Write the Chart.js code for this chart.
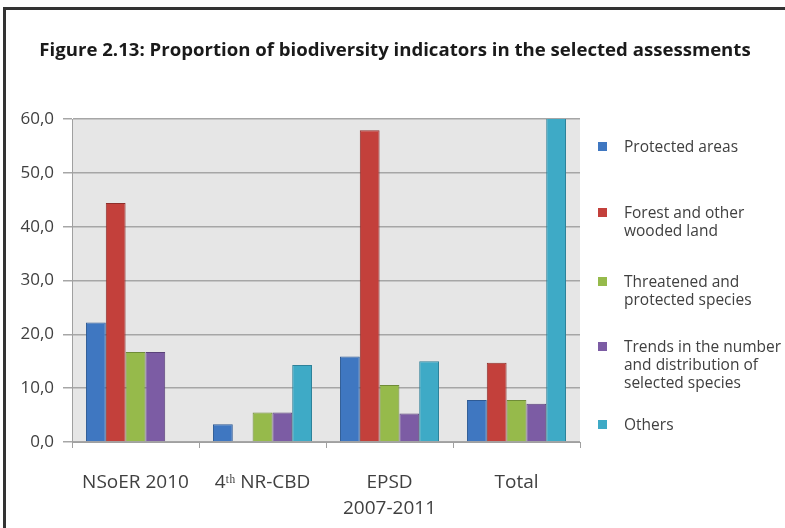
<!DOCTYPE html>
<html>
<head>
<meta charset="utf-8">
<script src="https://cdn.jsdelivr.net/npm/chart.js@4.4.0/dist/chart.umd.min.js"></script>
<style>
  body { margin: 0; background: #fff; font-family: "Open Sans", sans-serif; }
  #marco {
    position: absolute; left: 3px; top: 7px; right: 0; bottom: 0;
    border-left: 3px solid #333; border-top: 3px solid #333;
  }
  #grafico { position: absolute; left: 0; top: 0; }
  #titulo {
    position: absolute; left: 0; top: 34px; width: 790px; text-align: center;
    font-size: 18.6px; font-weight: bold; line-height: 30px; color: #1a1a1a; white-space: nowrap;
  }
  .item { position: absolute; left: 624px; font-size: 15.5px; line-height: 18px; color: #404040; white-space: nowrap; }
  .cuadro { position: absolute; left: -26px; top: 5px; width: 9px; height: 9px; }
</style>
</head>
<body>
<div id="marco"></div>
<canvas id="grafico" width="785" height="528"></canvas>
<div id="titulo">Figure 2.13: Proportion of biodiversity indicators in the selected assessments</div>
<div id="leyenda"></div>
<script>
// datos
const categorias = ['NSoER 2010', '4ᵗʰ NR-CBD', ['EPSD', '2007-2011'], 'Total'];
const series = ['Protected areas', 'Forest and other wooded land', 'Threatened and protected species', 'Trends in the number and distribution of selected species', 'Others'];
const protegidas = [22.2, 3.3, 15.9, 7.8];
const bosques = [44.4, 0, 57.9, 14.7];
const amenazadas = [16.7, 5.5, 10.6, 7.8];
const tendencias = [16.7, 5.5, 5.3, 7.1];
const otros = [0, 14.3, 15.0, 62.6];
const ticksY = [0, 10, 20, 30, 40, 50, 60];

const colores = ['#3f77c1', '#c3403b', '#96ba4b', '#7c5ca4', '#3eaac6'];
const bordes = ['#2e5a94', '#8e2f2b', '#6f8c37', '#5a4279', '#2e8199'];
const lineasLeyenda = [
    ['Protected areas'],
    ['Forest and other', 'wooded land'],
    ['Threatened and', 'protected species'],
    ['Trends in the number', 'and distribution of', 'selected species'],
    ['Others']
];
const topsLeyenda = [137, 203, 272, 337, 415];

const valores = [protegidas, bosques, amenazadas, tendencias, otros];

const ctx = document.getElementById('grafico').getContext('2d');
new Chart(ctx, {
    type: 'bar',
    data: {
        labels: categorias,
        datasets: series.map((nombre, i) => ({
            label: nombre,
            data: valores[i],
            backgroundColor: colores[i],
            borderColor: bordes[i],
            borderWidth: 1,
            categoryPercentage: 0.78,
            barPercentage: 1.0
        }))
    },
    options: {
        responsive: false,
        animation: false,
        layout: { padding: { left: 0, right: 205, top: 119, bottom: 0 } },
        scales: {
            x: {
                grid: { offset: true, drawOnChartArea: false, drawTicks: true, tickLength: 6, color: '#a0a0a0' },
                border: { color: '#a0a0a0', width: 1 },
                ticks: { color: '#404040', font: { family: 'Open Sans', size: 19, lineHeight: 1.37 }, padding: 22, maxRotation: 0, autoSkip: false },
                afterFit: (s) => { s.height = 528 - 442; }
            },
            y: {
                min: 0,
                max: 60,
                afterBuildTicks: (s) => { s.ticks = ticksY.map(v => ({ value: v })); },
                grid: { color: '#a6a6a6', lineWidth: 1.5, tickLength: 9 },
                border: { color: '#a0a0a0', width: 1 },
                ticks: {
                    color: '#404040', font: { family: 'Open Sans', size: 17 }, padding: 9,
                    callback: (v) => v.toFixed(1).replace('.', ',')
                },
                afterFit: (s) => { s.width = 72; }
            }
        },
        plugins: {
            legend: { display: false },
            tooltip: { enabled: false }
        }
    },
    plugins: [{
        id: 'fondoArea',
        beforeDraw(chart) {
            const a = chart.chartArea;
            const c = chart.ctx;
            c.save();
            c.fillStyle = '#e6e6e6';
            c.fillRect(a.left, a.top, a.right - a.left, a.bottom - a.top);
            c.restore();
        }
    }]
});

// leyenda a la derecha
const leyenda = document.getElementById('leyenda');
lineasLeyenda.forEach((lineas, i) => {
    leyenda.innerHTML += `
    <div class="item" style="top:${topsLeyenda[i]}px">
        <span class="cuadro" style="background:${colores[i]}"></span>
        ${lineas.join('<br>')}
    </div>`;
});
</script>
</body>
</html>
